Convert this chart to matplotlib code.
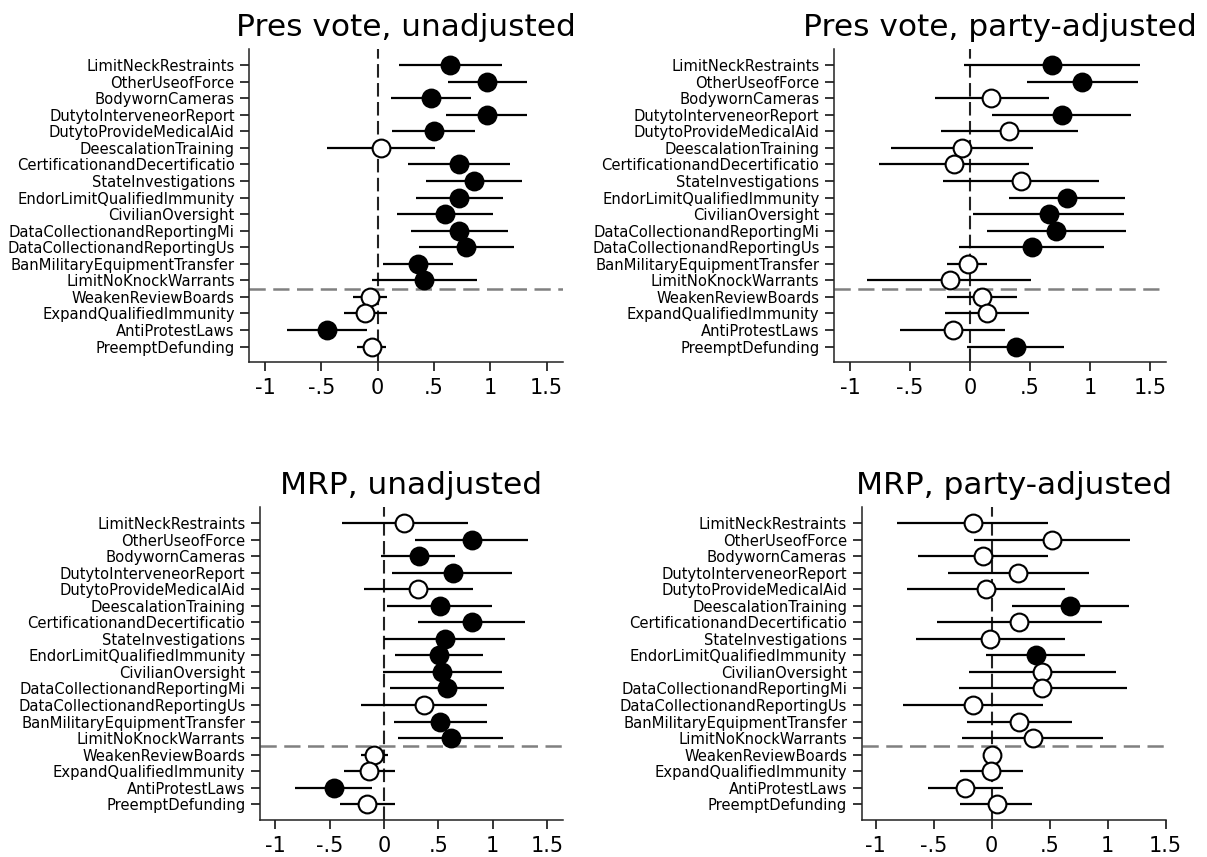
import matplotlib
matplotlib.use('Agg')
import matplotlib.pyplot as plt

# policy labels, top to bottom
policies = ['LimitNeckRestraints', 'OtherUseofForce', 'BodywornCameras',
            'DutytoInterveneorReport', 'DutytoProvideMedicalAid', 'DeescalationTraining',
            'CertificationandDecertificatio', 'StateInvestigations',
            'EndorLimitQualifiedImmunity', 'CivilianOversight',
            'DataCollectionandReportingMi', 'DataCollectionandReportingUs',
            'BanMilitaryEquipmentTransfer', 'LimitNoKnockWarrants',
            'WeakenReviewBoards', 'ExpandQualifiedImmunity', 'AntiProtestLaws',
            'PreemptDefunding']

# Pres vote, unadjusted
pres_est = [0.64, 0.97, 0.47, 0.97, 0.50, 0.03, 0.72, 0.855, 0.725, 0.595, 0.72, 0.787,
            0.355, 0.414, -0.068, -0.109, -0.45, -0.05]
pres_lo = [0.186, 0.624, 0.115, 0.609, 0.130, -0.45, 0.269, 0.432, 0.343, 0.175, 0.293, 0.37,
           0.05, -0.05, -0.216, -0.299, -0.802, -0.18]
pres_hi = [1.107, 1.328, 0.825, 1.328, 0.864, 0.512, 1.178, 1.278, 1.115, 1.021, 1.16, 1.21,
           0.666, 0.882, 0.086, 0.086, -0.098, 0.071]
pres_sig = [1, 1, 1, 1, 1, 0, 1, 1, 1, 1, 1, 1, 1, 1, 0, 0, 1, 0]

# Pres vote, party-adjusted
presadj_est = [0.683, 0.936, 0.178, 0.764, 0.325, -0.064, -0.136, 0.425, 0.806, 0.658, 0.717,
               0.517, -0.019, -0.169, 0.103, 0.139, -0.144, 0.381]
presadj_lo = [-0.05, 0.472, -0.294, 0.181, -0.244, -0.656, -0.756, -0.225, 0.328, 0.028, 0.139,
              -0.089, -0.189, -0.856, -0.192, -0.208, -0.586, -0.022]
presadj_hi = [1.417, 1.403, 0.656, 1.339, 0.897, 0.528, 0.489, 1.078, 1.289, 1.286, 1.297,
              1.114, 0.144, 0.508, 0.394, 0.489, 0.294, 0.781]
presadj_sig = [1, 1, 0, 1, 0, 0, 0, 0, 1, 1, 1, 1, 0, 0, 0, 0, 0, 1]

# MRP, unadjusted
mrp_est = [0.187, 0.807, 0.322, 0.638, 0.316, 0.515, 0.81, 0.561, 0.506, 0.537, 0.58, 0.365,
           0.518, 0.613, -0.089, -0.135, -0.46, -0.156]
mrp_lo = [-0.39, 0.282, -0.025, 0.077, -0.187, 0.031, 0.313, 0.0, 0.104, -0.006, 0.058, -0.209,
          0.092, 0.132, -0.215, -0.365, -0.816, -0.408]
mrp_hi = [0.773, 1.328, 0.653, 1.181, 0.819, 0.997, 1.298, 1.113, 0.914, 1.089, 1.101, 0.945,
          0.945, 1.095, 0.037, 0.098, -0.107, 0.098]
mrp_sig = [0, 1, 1, 1, 0, 1, 1, 1, 1, 1, 1, 0, 1, 1, 0, 0, 1, 0]

# MRP, party-adjusted
mrpadj_est = [-0.161, 0.523, -0.075, 0.228, -0.046, 0.676, 0.233, -0.011, 0.378, 0.437, 0.437,
              -0.161, 0.239, 0.357, 0.005, -0.003, -0.231, 0.043]
mrpadj_lo = [-0.812, -0.153, -0.638, -0.378, -0.729, 0.172, -0.475, -0.654, -0.048, -0.193,
             -0.284, -0.761, -0.209, -0.255, -0.04, -0.276, -0.552, -0.276]
mrpadj_hi = [0.485, 1.196, 0.485, 0.836, 0.63, 1.185, 0.949, 0.633, 0.804, 1.072, 1.164, 0.44,
             0.689, 0.962, 0.05, 0.273, 0.094, 0.351]
mrpadj_sig = [0, 0, 0, 0, 0, 1, 0, 0, 1, 0, 0, 0, 0, 0, 0, 0, 0, 0]

xticks = [-1, -0.5, 0, 0.5, 1, 1.5]
xtick_labels = ['-1', '-.5', '0', '.5', '1', '1.5']

W, H = 1207, 857
fig = plt.figure(figsize=(W / 100, H / 100), dpi=100)


def px_axes(x0, y0, x1, y1):
    # axes placed by pixel box (left, top, right, bottom)
    return fig.add_axes([x0 / W, 1 - y1 / H, (x1 - x0) / W, (y1 - y0) / H])


panels = [
    ('Pres vote, unadjusted', (249.3, 49.3, 562.7, 362.3), (-1.139, 1.642),
     pres_est, pres_lo, pres_hi, pres_sig),
    ('Pres vote, party-adjusted', (834, 49.3, 1165.7, 362.3), (-1.133, 1.63),
     presadj_est, presadj_lo, presadj_hi, presadj_sig),
    ('MRP, unadjusted', (260, 507.3, 562.7, 820), (-1.141, 1.644),
     mrp_est, mrp_lo, mrp_hi, mrp_sig),
    ('MRP, party-adjusted', (861.7, 507.3, 1165.7, 820), (-1.12, 1.324),
     mrpadj_est, mrpadj_lo, mrpadj_hi, mrpadj_sig),
]

n = len(policies)
ypos = list(range(n, 0, -1))

for title, box, xlim, est, lo, hi, sig in panels:
    ax = px_axes(*box)

    # zero reference line and split between the two policy groups
    ax.axvline(0, color='#222222', lw=1.5, linestyle=(0, (6.5, 2.6)), zorder=1)
    ax.axhline(4.5, color='#808080', lw=1.8, linestyle=(0, (6.5, 3)), zorder=1)

    ax.hlines(ypos, lo, hi, color='black', lw=1.6, zorder=2)
    for y, e, s in zip(ypos, est, sig):
        ax.plot(e, y, marker='o', markersize=12.8, markeredgewidth=1.5,
                markeredgecolor='black', markerfacecolor='black' if s else 'white',
                linestyle='None', zorder=3)

    ax.set_xlim(*xlim)
    ax.set_ylim(0.05, n + 0.95)
    ax.set_yticks(ypos)
    ax.set_yticklabels(policies, fontsize=10.6)
    ax.set_xticks(xticks)
    ax.set_xticklabels(xtick_labels, fontsize=15)
    ax.tick_params(axis='y', length=6.5, width=1.1, pad=4)
    ax.tick_params(axis='x', length=6.2, width=1.1, pad=5)
    for side in ['top', 'right']:
        ax.spines[side].set_visible(False)
    for side in ['left', 'bottom']:
        ax.spines[side].set_linewidth(1.1)
        ax.spines[side].set_color('#222222')
    ax.set_title(title, fontsize=22.5, pad=9.5)

fig.savefig('out.png', dpi=100)
